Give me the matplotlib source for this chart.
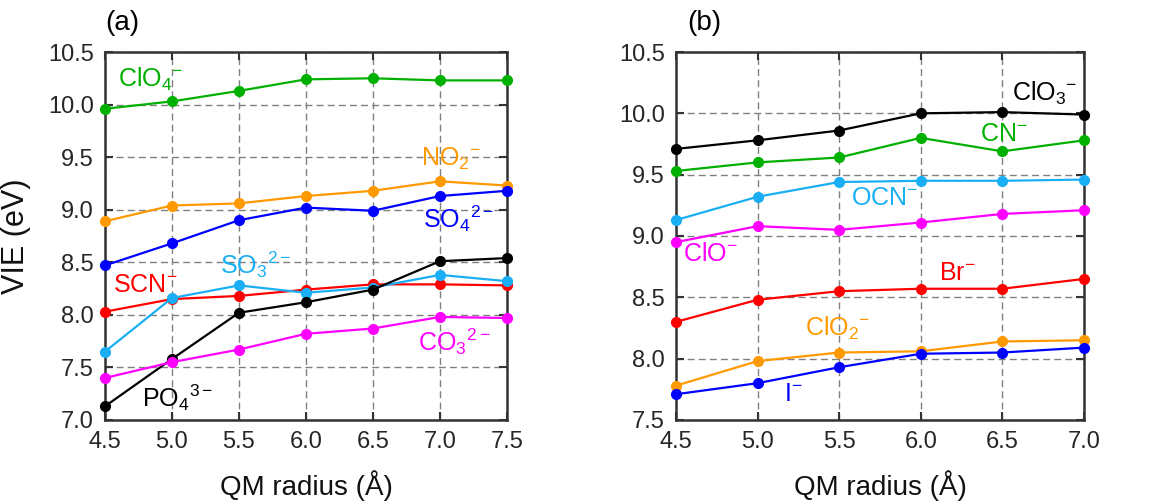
import matplotlib
matplotlib.use("Agg")
import matplotlib.pyplot as plt

plt.rcParams['font.family'] = ['Liberation Sans', 'DejaVu Sans']
plt.rcParams['mathtext.fontset'] = 'custom'
plt.rcParams['mathtext.rm'] = 'Liberation Sans'
plt.rcParams['mathtext.it'] = 'Liberation Sans'
plt.rcParams['mathtext.default'] = 'regular'

# ---- data, panel (a) ----
radius_a = [4.5, 5.0, 5.5, 6.0, 6.5, 7.0, 7.5]
clo4 = [9.96, 10.03, 10.13, 10.24, 10.25, 10.23, 10.23]
no2 = [8.89, 9.04, 9.06, 9.13, 9.18, 9.27, 9.23]
so4 = [8.47, 8.68, 8.90, 9.02, 8.99, 9.13, 9.18]
scn = [8.03, 8.15, 8.18, 8.24, 8.29, 8.29, 8.28]
so3 = [7.65, 8.16, 8.28, 8.21, 8.26, 8.38, 8.32]
po4 = [7.13, 7.58, 8.02, 8.12, 8.24, 8.51, 8.54]
co3 = [7.40, 7.55, 7.67, 7.82, 7.87, 7.98, 7.97]

# ---- data, panel (b) ----
radius_b = [4.5, 5.0, 5.5, 6.0, 6.5, 7.0]
clo3 = [9.71, 9.78, 9.86, 10.00, 10.01, 9.99]
cn = [9.53, 9.60, 9.64, 9.80, 9.69, 9.78]
ocn = [9.13, 9.32, 9.44, 9.45, 9.45, 9.46]
clo = [8.95, 9.08, 9.05, 9.11, 9.18, 9.21]
br = [8.30, 8.48, 8.55, 8.57, 8.57, 8.65]
clo2 = [7.78, 7.98, 8.05, 8.06, 8.14, 8.15]
iod = [7.71, 7.80, 7.93, 8.04, 8.05, 8.09]

GREEN = '#00b000'
ORANGE = '#ff9900'
BLUE = '#0000ff'
RED = '#ff0000'
LBLUE = '#1aaff5'
BLACK = '#000000'
MAG = '#ff00ff'

series_a = [
    (clo4, GREEN, r'ClO$_4$$^{-}$', 4.60, 10.24),
    (no2, ORANGE, r'NO$_2$$^{-}$', 6.86, 9.48),
    (so4, BLUE, r'SO$_4$$^{2-}$', 6.87, 8.91),
    (scn, RED, r'SCN$^{-}$', 4.56, 8.28),
    (so3, LBLUE, r'SO$_3$$^{2-}$', 5.36, 8.48),
    (po4, BLACK, r'PO$_4$$^{3-}$', 4.78, 7.21),
    (co3, MAG, r'CO$_3$$^{2-}$', 6.84, 7.74),
]
series_b = [
    (clo3, BLACK, r'ClO$_3$$^{-}$', 6.56, 10.16),
    (cn, GREEN, r'CN$^{-}$', 6.36, 9.83),
    (ocn, LBLUE, r'OCN$^{-}$', 5.57, 9.31),
    (clo, MAG, r'ClO$^{-}$', 4.54, 8.85),
    (br, RED, r'Br$^{-}$', 6.11, 8.70),
    (clo2, ORANGE, r'ClO$_2$$^{-}$', 5.29, 8.25),
    (iod, BLUE, r'I$^{-}$', 5.16, 7.71),
]

fig = plt.figure(figsize=(11.74, 5.01), dpi=100)
ax_a = fig.add_axes([0.0894, 0.1617, 0.3424, 0.7345])
ax_b = fig.add_axes([0.5758, 0.1617, 0.3475, 0.7345])

SPINE = '#333333'
TICKC = '#262626'


def style(ax, x, ylim, yticks):
    ax.set_xlim(x[0], x[-1])
    ax.set_ylim(*ylim)
    ax.set_xticks(x)
    ax.set_xticklabels([f'{v:.1f}' for v in x])
    ax.set_yticks(yticks)
    ax.set_yticklabels([f'{v:.1f}' for v in yticks])
    ax.grid(True, color='#808080', linestyle=(0, (5, 3)), linewidth=1.0)
    ax.set_axisbelow(True)
    for s in ax.spines.values():
        s.set_color(SPINE)
        s.set_linewidth(1.8)
    ax.tick_params(direction='in', top=True, right=True, length=6, width=1.5,
                   color=SPINE, labelsize=17, labelcolor=TICKC, pad=8)
    ax.set_xlabel('QM radius (Å)', fontsize=20, color='#111111', labelpad=12)


for ax, x, series in [(ax_a, radius_a, series_a), (ax_b, radius_b, series_b)]:
    for vals, col, lab, tx, ty in series:
        ax.plot(x, vals, '-o', color=col, linewidth=1.6, markersize=7,
                clip_on=False, zorder=3)
        ax.text(tx, ty, lab, color=col, fontsize=18, ha='left', va='center')

style(ax_a, radius_a, (7.0, 10.5), [7.0, 7.5, 8.0, 8.5, 9.0, 9.5, 10.0, 10.5])
style(ax_b, radius_b, (7.5, 10.5), [7.5, 8.0, 8.5, 9.0, 9.5, 10.0, 10.5])
ax_a.set_ylabel('VIE (eV)', fontsize=22, color='#111111', labelpad=12)

ax_a.text(0.0, 1.08, '(a)', transform=ax_a.transAxes, fontsize=20,
          ha='left', va='center')
ax_b.text(0.027, 1.08, '(b)', transform=ax_b.transAxes, fontsize=20,
          ha='left', va='center')

fig.savefig('out.png', dpi=100)
